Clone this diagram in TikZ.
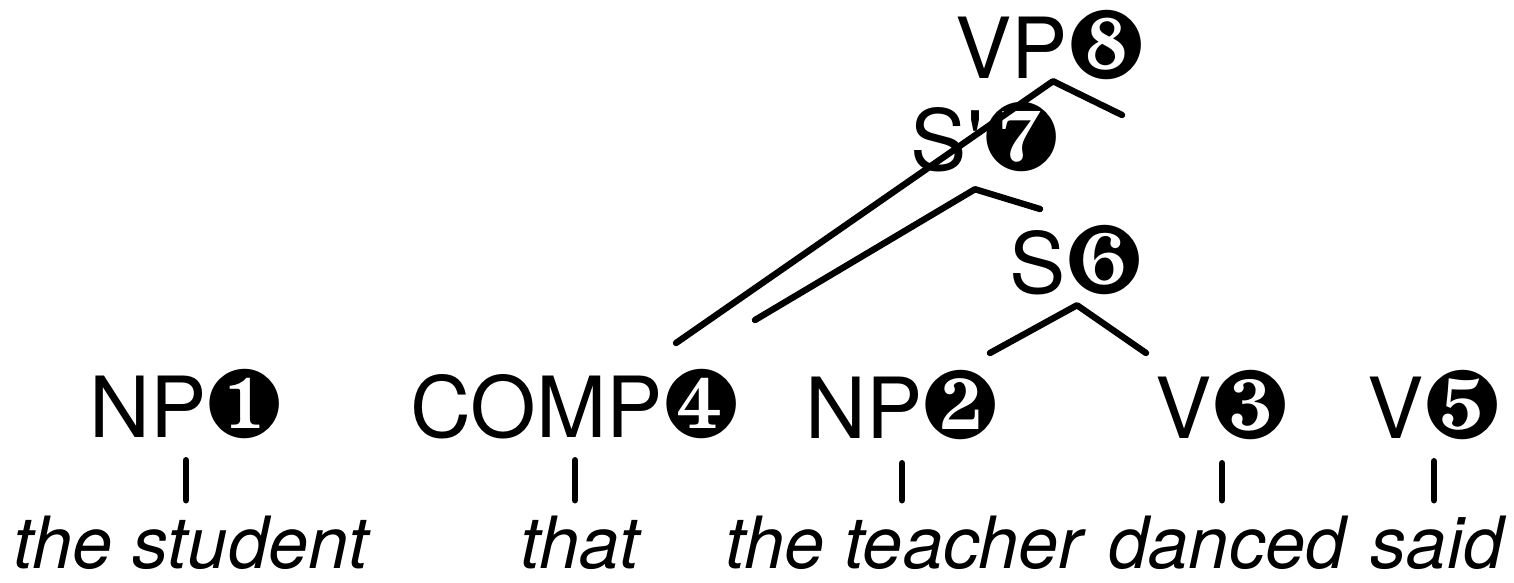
\documentclass[tikz,border=0pt]{standalone}
\usepackage{fontspec,pifont}
\setmainfont{TeX Gyre Heros}
\newcommand{\dg}[1]{{\fontsize{27.5}{29}\selectfont\ding{#1}}}

\begin{document}
\begin{tikzpicture}[x=0.1mm,y=-0.1mm,line width=0.64mm,line cap=round,line join=round,
  cat/.style={anchor=base,inner sep=0pt,text depth=0pt,font=\fontsize{24}{26}\selectfont},
  word/.style={anchor=base,inner sep=0pt,font=\fontsize{20.5}{22}\selectfont\itshape}]
\useasboundingbox (0,0) rectangle (1514,582);
% categories
\node[cat] (np1) at (186,437) {NP\dg{182}};
\node[cat] (comp4) at (575,437) {COMP\dg{185}};
\node[cat] (np2) at (902,438) {NP\dg{183}};
\node[cat] (v3) at (1222,438) {V\dg{184}};
\node[cat] (v5) at (1434,438) {V\dg{186}};
\node[cat] (s6) at (1076,293) {S\dg{187}};
\node[cat] (s7) at (985,170) {S\textquotesingle\dg{188}};
\node[cat] (vp8) at (1050,78) {VP\dg{189}};
% words
\node[word] (student) at (191,568) {the student};
\node[word] (that) at (580,568) {that};
\node[word] (teacher) at (904,568) {the teacher};
\node[word] (danced) at (1227,568) {danced};
\node[word] (said) at (1437,568) {said};
% lexical lines
\draw[shorten <=2mm,shorten >=1.2mm] (np1.south) -- (np1.south |- student.north);
\draw[shorten <=2mm,shorten >=1.2mm] (comp4.south) -- (comp4.south |- that.north);
\draw[shorten <=2.2mm,shorten >=1.2mm] (np2.south) -- (np2.south |- teacher.north);
\draw[shorten <=2.2mm,shorten >=1.2mm] (v3.south) -- (v3.south |- danced.north);
\draw[shorten <=2mm,shorten >=1.2mm] (v5.south) -- (v5.south |- said.north);
% open branches
\coordinate (s6l) at (990,353);
\coordinate (s6r) at (1146,353);
\coordinate (s7l) at (755,320);
\coordinate (s7r) at (1040,209);
\coordinate (vp8l) at (676,343);
\coordinate (vp8r) at (1122,115);
\draw (s6l) -- ([xshift=.1mm,yshift=-.9mm]s6.south) -- (s6r);
\draw (s7l) -- ([xshift=-1mm,yshift=-1.6mm]s7.south) -- (s7r);
\draw (vp8l) -- ([xshift=.3mm,yshift=0mm]vp8.south) -- (vp8r);
\end{tikzpicture}
\end{document}
